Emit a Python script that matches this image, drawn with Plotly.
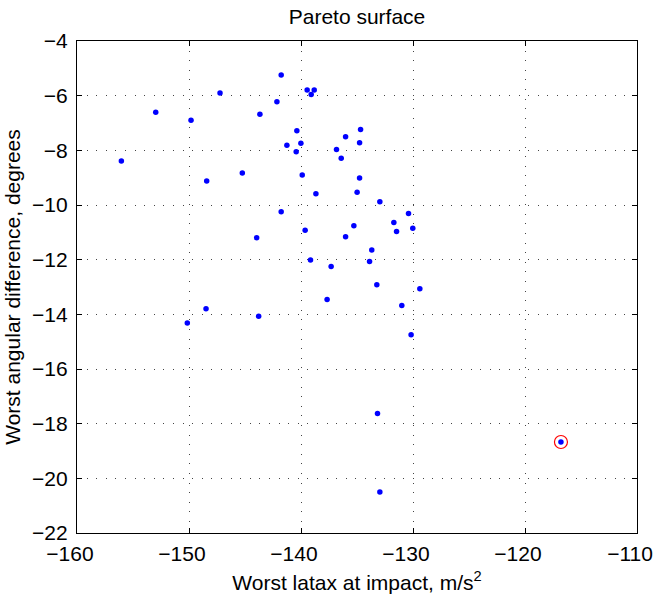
import plotly.graph_objects as go

latax = [-141.77, -147.23, -139.45, -138.82, -139.09, -142.15, -152.97, -143.67, -149.82, -140.37,
         -134.68, -136.02, -141.26, -140.01, -134.77, -140.43, -136.83, -136.41, -156.04, -145.24,
         -148.42, -139.89, -134.77, -138.67, -134.99, -132.96, -141.77, -139.63, -135.28, -143.96,
         -136.02, -133.68, -133.88, -139.15, -137.31, -133.23, -137.67, -148.48, -130.40, -131.71,
         -131.47, -130.02, -129.39, -131.00, -143.78, -150.15, -130.17, -133.17, -132.96]
angdiff = [-5.24, -5.90, -5.79, -5.79, -5.96, -6.22, -6.61, -6.68, -6.90, -7.28,
           -7.24, -7.50, -7.81, -7.74, -7.72, -8.05, -7.97, -8.29, -8.39, -8.83,
           -9.12, -8.90, -9.01, -9.59, -9.53, -9.88, -10.25, -10.92, -10.76, -11.20,
           -11.16, -11.65, -12.07, -12.01, -12.25, -12.92, -13.46, -13.80, -10.31, -10.64,
           -10.97, -10.85, -13.06, -13.68, -14.07, -14.32, -14.75, -17.63, -20.50]
best_latax = [-116.79]
best_angdiff = [-18.67]

x_ticks = [-160, -150, -140, -130, -120, -110]
y_ticks = [-22, -20, -18, -16, -14, -12, -10, -8, -6, -4]

FONT = 21

fig = go.Figure()
fig.add_trace(go.Scatter(x=latax + best_latax, y=angdiff + best_angdiff, mode="markers",
                         marker=dict(color="#0000ff", size=5.5), showlegend=False))
fig.add_trace(go.Scatter(x=best_latax, y=best_angdiff, mode="markers",
                         marker=dict(symbol="circle-open", color="#ff0000", size=13,
                                     line=dict(width=1.2, color="#ff0000")),
                         showlegend=False))

axis_common = dict(
    showline=True, linecolor="black", linewidth=1.3, mirror="allticks",
    ticks="inside", ticklen=5, tickcolor="black", tickwidth=1,
    showgrid=True, gridcolor="#444444", griddash="1px,8.6px", gridwidth=1,
    zeroline=False, tickfont=dict(size=FONT, color="black"), automargin=False,
    ticklabeloverflow="allow",
)

fig.update_xaxes(range=[-160, -110], tickvals=x_ticks, ticktext=[f"\u2212{abs(v)}" for v in x_ticks],
                 ticklabelstandoff=2, ticklabelshift=-7,
                 title=dict(text="Worst latax at impact, m/s<sup>2</sup>", font=dict(size=FONT, color="black"),
                            standoff=10),
                 **axis_common)
fig.update_yaxes(range=[-22, -4], tickvals=y_ticks, ticktext=[f"\u2212{abs(v)}" for v in y_ticks],
                 ticklabelstandoff=4,
                 title=dict(text="Worst angular difference, degrees", font=dict(size=FONT, color="black"),
                            standoff=5),
                 **axis_common)

fig.update_layout(
    width=656, height=597,
    margin=dict(l=77, r=19, t=41, b=64),
    paper_bgcolor="white", plot_bgcolor="white",
    font=dict(family="Liberation Sans, Arial, sans-serif", color="black"),
    title=dict(text="Pareto surface", x=(77 + 637) / 2 / 656, xanchor="center",
               y=1 - 17 / 597, yanchor="middle",
               font=dict(size=FONT, color="black")),
)

fig.write_html("out.html", config={"displayModeBar": False},
               post_script="document.body.style.margin='0px';document.body.style.overflow='hidden';")
